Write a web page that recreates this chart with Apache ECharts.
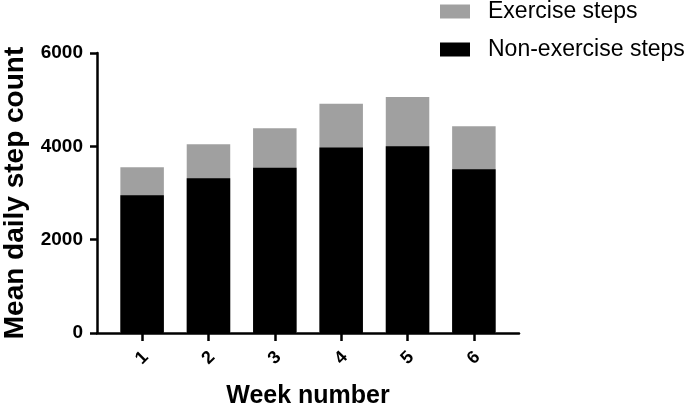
<!DOCTYPE html>
<html>
<head>
<meta charset="utf-8">
<script src="https://cdn.jsdelivr.net/npm/echarts@6/dist/echarts.min.js"></script>
<style>
html,body{margin:0;padding:0;background:#fff;}
#c{width:685px;height:404px;}
</style>
</head>
<body>
<div id="c"></div>
<script>
var weeks = ['1', '2', '3', '4', '5', '6'];
var weekPos = [1, 2, 3, 4, 5, 6];
var nonExerciseSteps = [2950, 3316, 3543, 3973, 4003, 3509];
var exerciseSteps = [600, 730, 846, 938, 1052, 923];
var yTicks = [0, 2000, 4000, 6000];

var FONT = 'Liberation Sans, Arial, Helvetica, sans-serif';

var totals = nonExerciseSteps.map(function (v, i) { return v + exerciseSteps[i]; });
var grayData = weekPos.map(function (x, i) { return [x, totals[i]]; });
var blackData = weekPos.map(function (x, i) { return [x, nonExerciseSteps[i]]; });

var chart = echarts.init(document.getElementById('c'), null, {renderer: 'canvas'});
chart.setOption({
  animation: false,
  backgroundColor: '#ffffff',
  grid: {left: 97, right: 166, top: 53, bottom: 71, containLabel: false, outerBoundsMode: 'none'},
  legend: {
    orient: 'vertical',
    left: 440,
    top: 0,
    padding: 0,
    itemWidth: 30,
    itemHeight: 14,
    itemGap: 15,
    icon: 'rect',
    data: ['Exercise steps', 'Non-exercise steps'],
    textStyle: {fontFamily: FONT, fontSize: 23, color: '#000', padding: [0, 0, 0, 13]}
  },
  xAxis: {
    type: 'value',
    min: 0.32,
    max: 6.68,
    name: 'Week number',
    nameLocation: 'middle',
    nameGap: 51,
    nameTextStyle: {fontFamily: FONT, fontSize: 25, fontWeight: 'bold', color: '#000'},
    axisLine: {show: true, lineStyle: {color: '#000', width: 2.5}},
    axisTick: {show: true, length: 8, lineStyle: {color: '#000', width: 2.5}, customValues: weekPos},
    axisLabel: {
      customValues: weekPos,
      rotate: 45,
      align: 'center',
      verticalAlign: 'middle',
      margin: 25,
      fontFamily: FONT, fontSize: 18, fontWeight: 'bold', color: '#000',
      formatter: function (v) { return weeks[Math.round(v) - 1]; }
    },
    splitLine: {show: false}
  },
  yAxis: {
    type: 'value',
    min: yTicks[0],
    max: yTicks[yTicks.length - 1],
    interval: 2000,
    name: 'Mean daily step count',
    nameLocation: 'middle',
    nameGap: 68,
    nameTextStyle: {fontFamily: FONT, fontSize: 28, fontWeight: 'bold', color: '#000'},
    axisLine: {show: true, lineStyle: {color: '#000', width: 2.5}},
    axisTick: {show: true, length: 7, lineStyle: {color: '#000', width: 2.5}},
    axisLabel: {
      margin: 14, fontFamily: FONT, fontSize: 19, fontWeight: 'bold', color: '#000',
      formatter: function (v) { return String(v); }
    },
    splitLine: {show: false}
  },
  series: [
    {
      name: 'Exercise steps',
      type: 'bar',
      data: grayData,
      barWidth: 43.5,
      barGap: '-100%',
      itemStyle: {color: '#a0a0a0'}
    },
    {
      name: 'Non-exercise steps',
      type: 'bar',
      data: blackData,
      barWidth: 43.5,
      barGap: '-100%',
      itemStyle: {color: '#000000'}
    }
  ]
});
</script>
</body>
</html>
